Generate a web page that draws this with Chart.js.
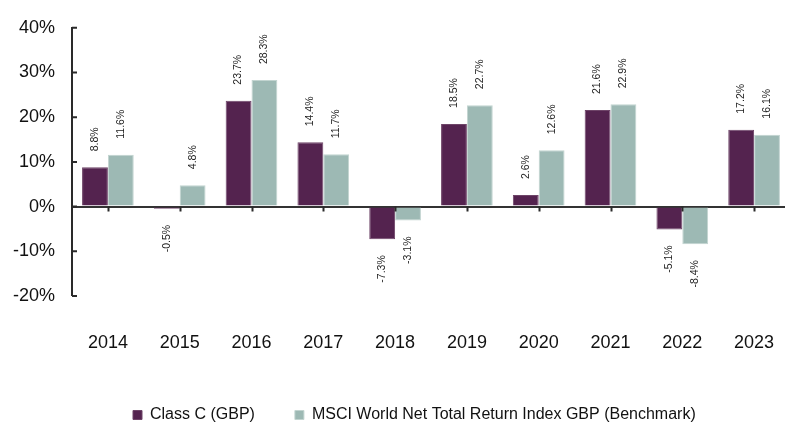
<!DOCTYPE html>
<html>
<head>
<meta charset="utf-8">
<script src="https://cdn.jsdelivr.net/npm/chart.js@4.4.1/dist/chart.umd.min.js"></script>
<style>
  html, body { margin: 0; padding: 0; background: #fff; overflow: hidden; }
  #wrap { width: 800px; height: 424px; }
</style>
</head>
<body>
<div id="wrap"><canvas id="chart" width="800" height="424"></canvas></div>
<script>
const years = ['2014', '2015', '2016', '2017', '2018', '2019', '2020', '2021', '2022', '2023']
const classC = [8.8, -0.5, 23.7, 14.4, -7.3, 18.5, 2.6, 21.6, -5.1, 17.2]
const benchmark = [11.6, 4.8, 28.3, 11.7, -3.1, 22.7, 12.6, 22.9, -8.4, 16.1]
const seriesNames = ['Class C (GBP)', 'MSCI World Net Total Return Index GBP (Benchmark)']
const yTicks = [-20, -10, 0, 10, 20, 30, 40]

const FONT = 'Arial, "Liberation Sans", sans-serif'

// rotated value labels above / below each bar
const valueLabels = {
  id: 'valueLabels',
  afterDatasetsDraw(chart) {
    const ctx = chart.ctx
    ctx.save()
    ctx.font = '10.5px ' + FONT
    ctx.fillStyle = '#222'
    ctx.textBaseline = 'middle'
    chart.data.datasets.forEach((ds, di) => {
      chart.getDatasetMeta(di).data.forEach((bar, i) => {
        const v = ds.data[i]
        ctx.save()
        ctx.translate(bar.x, bar.y)
        ctx.rotate(-Math.PI / 2)
        if (v >= 0) {
          ctx.textAlign = 'left'
          ctx.fillText(v.toFixed(1) + '%', 16, 0)
        } else {
          ctx.textAlign = 'right'
          ctx.fillText(v.toFixed(1) + '%', -16, 0)
        }
        ctx.restore()
      })
    })
    ctx.restore()
  },
}

// small tick marks: y ticks point inward, x ticks hang off the zero line
const axisMarks = {
  id: 'axisMarks',
  afterDatasetsDraw(chart) {
    const ctx = chart.ctx
    const x = chart.scales.x
    const y = chart.scales.y
    const y0 = y.getPixelForValue(0)
    ctx.save()
    ctx.strokeStyle = '#2a2a2a'
    ctx.lineWidth = 2
    ctx.beginPath()
    yTicks.forEach((t) => {
      const py = y.getPixelForValue(t)
      ctx.moveTo(chart.chartArea.left, py)
      ctx.lineTo(chart.chartArea.left + 5, py)
    })
    years.forEach((_, i) => {
      const px = Math.round(x.getPixelForTick(i)) + 0.5
      ctx.moveTo(px, y0)
      ctx.lineTo(px, y0 + 5)
    })
    ctx.stroke()
    ctx.restore()
  },
}

// put the legend where the reference has it
const legendPlace = {
  id: 'legendPlace',
  afterLayout(chart) {
    const lg = chart.legend
    if (!lg) return
    const pad = lg.options.labels.padding
    const h = lg.height
    lg.left = 133 - pad
    lg.top = 415 - pad - 8
    lg.bottom = lg.top + h
  },
}

window.addEventListener('load', () => {
  const ctx = document.getElementById('chart').getContext('2d')
  new Chart(ctx, {
    type: 'bar',
    data: {
      labels: years,
      datasets: [
        {
          label: seriesNames[0],
          data: classC,
          backgroundColor: '#54234f',
          borderColor: '#6e4468',
          borderWidth: 1,
        },
        {
          label: seriesNames[1],
          data: benchmark,
          backgroundColor: '#9db9b4',
          borderColor: '#c2d4d0',
          borderWidth: 1,
        },
      ],
    },
    options: {
      responsive: false,
      animation: false,
      devicePixelRatio: 1,
      categoryPercentage: 0.72,
      barPercentage: 1,
      layout: { padding: { top: 24, right: 10, left: 0, bottom: 0 } },
      plugins: {
        tooltip: { enabled: false },
        legend: {
          position: 'bottom',
          align: 'start',
          labels: {
            boxWidth: 9,
            boxHeight: 9,
            padding: 40,
            color: '#111',
            font: { family: FONT, size: 16 },
          },
        },
      },
      scales: {
        x: {
          grid: { display: false, drawTicks: true, tickLength: 36 },
          border: { display: false },
          ticks: {
            color: '#111',
            padding: 0,
            font: { family: FONT, size: 18 },
            maxRotation: 0,
          },
          afterFit(s) { s.height = 62 },
        },
        y: {
          min: -20,
          max: 40,
          afterBuildTicks(s) { s.ticks = yTicks.map((v) => ({ value: v })) },
          ticks: {
            color: '#111',
            padding: 17,
            font: { family: FONT, size: 18 },
            callback: (v) => v + '%',
          },
          grid: {
            drawTicks: false,
            color: (c) => (c.tick && c.tick.value === 0 ? '#333' : 'rgba(0,0,0,0)'),
            lineWidth: (c) => (c.tick && c.tick.value === 0 ? 2 : 0),
          },
          border: { display: true, color: '#2a2a2a', width: 2 },
          afterFit(s) { s.width = 72 },
        },
      },
    },
    plugins: [valueLabels, axisMarks, legendPlace],
  })
})
</script>
</body>
</html>
